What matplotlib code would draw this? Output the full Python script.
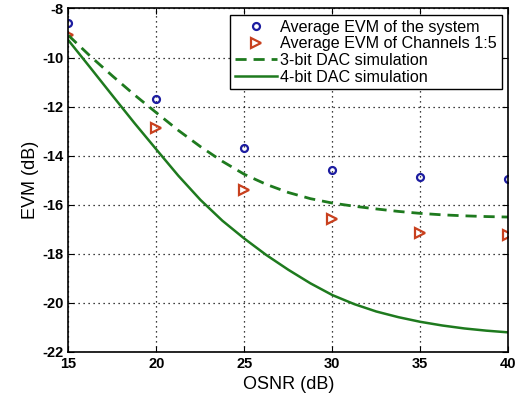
import matplotlib.pyplot as plt
import numpy as np

plt.rcParams['font.family'] = ['Liberation Sans', 'DejaVu Sans']
plt.rcParams['axes.unicode_minus'] = False

# measured points
osnr_pts = [15, 20, 25, 30, 35, 40]
evm_system = [-8.61, -11.67, -13.68, -14.57, -14.88, -14.93]
evm_ch15 = [-9.10, -12.89, -15.40, -16.59, -17.16, -17.24]

# simulation curves
osnr_sim = [15, 16.25, 17.5, 18.75, 20, 21.25, 22.5, 23.75, 25, 26.25, 27.5,
            28.75, 30, 31.25, 32.5, 33.75, 35, 36.25, 37.5, 38.75, 40]
sim_3bit = [-9.10, -9.95, -10.75, -11.52, -12.25, -12.97, -13.63, -14.23, -14.76,
            -15.17, -15.50, -15.75, -15.93, -16.06, -16.17, -16.27, -16.35,
            -16.41, -16.45, -16.48, -16.50]
sim_4bit = [-9.30, -10.42, -11.55, -12.67, -13.75, -14.82, -15.80, -16.65, -17.38,
            -18.05, -18.65, -19.20, -19.68, -20.05, -20.35, -20.58, -20.77,
            -20.92, -21.04, -21.13, -21.20]

green = '#1e7a1e'

fig = plt.figure(figsize=(5.24, 3.99), dpi=100)
ax = fig.add_axes([0.1307, 0.1178, 0.8393, 0.8609])

ax.plot(osnr_pts, evm_system, 'o', color='#1c1ca0', mfc='none', ms=5, mew=1.6,
        label='Average EVM of the system')
ax.plot(osnr_pts, evm_ch15, '>', color='#c8401e', mfc='none', ms=6.5, mew=1.6,
        label='Average EVM of Channels 1:5')
ax.plot(osnr_sim, sim_3bit, '--', color=green, lw=2, dashes=(4, 2.5),
        label='3-bit DAC simulation')
ax.plot(osnr_sim, sim_4bit, '-', color=green, lw=1.8,
        label='4-bit DAC simulation')

ax.set_xlim(15, 40)
ax.set_ylim(-22, -8)
ax.set_xticks([15, 20, 25, 30, 35, 40])
ax.set_yticks([-22, -20, -18, -16, -14, -12, -10, -8])
ax.grid(True, linestyle=(0, (1, 3)), color='black', linewidth=0.9)
ax.tick_params(direction='in', top=True, right=True, length=4, labelsize=10.5)
for lbl in ax.get_xticklabels() + ax.get_yticklabels():
    lbl.set_fontweight('bold')
for s in ax.spines.values():
    s.set_linewidth(1.2)

ax.set_xlabel('OSNR (dB)', fontsize=13, labelpad=4)
ax.set_ylabel('EVM (dB)', fontsize=13, labelpad=2)

leg = ax.legend(loc='upper right', fontsize=11.6, fancybox=False, framealpha=1,
                edgecolor='black', handlelength=2.6, borderaxespad=0.4,
                labelspacing=0.1, handletextpad=0.2, borderpad=0.3)
leg.get_frame().set_linewidth(1.0)

plt.savefig('out.png', dpi=100)
